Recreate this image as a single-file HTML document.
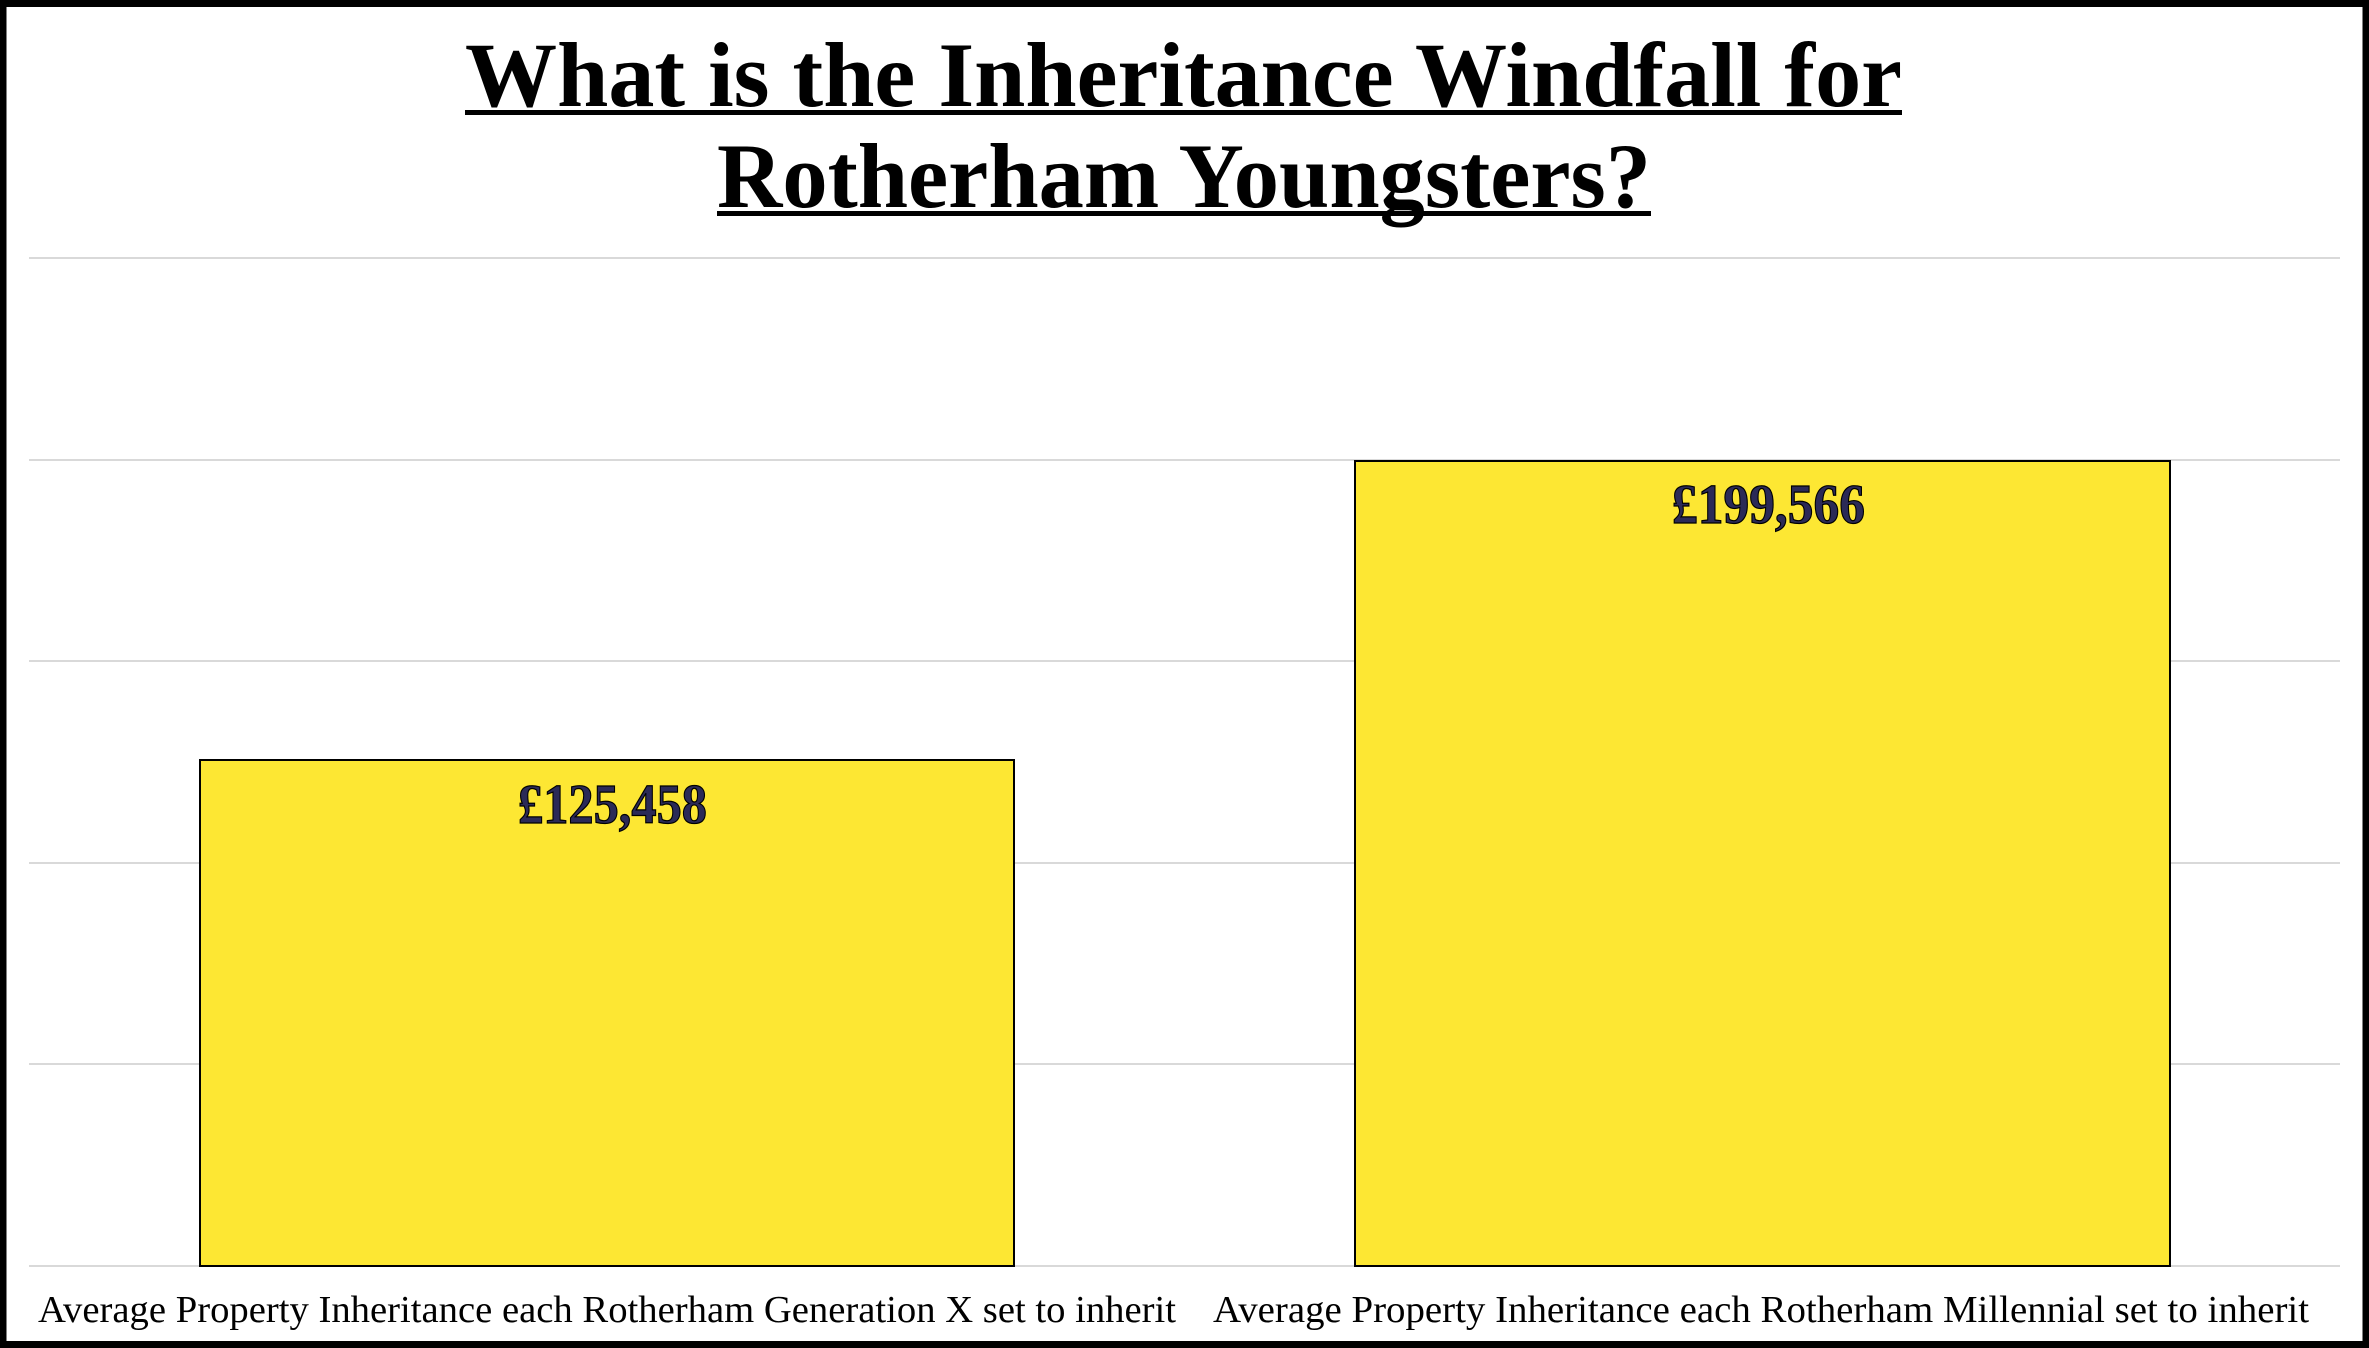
<!DOCTYPE html>
<html><head><meta charset="utf-8"><style>
html,body{margin:0;padding:0;background:#fff;}
svg{display:block;}
</style></head><body>
<svg width="2369" height="1348" viewBox="0 0 2369 1348" xmlns="http://www.w3.org/2000/svg">
<rect x="0" y="0" width="2369" height="1348" fill="#fff"/>
<g stroke="#d9d9d9" stroke-width="2">
<line x1="29" y1="258" x2="2340" y2="258"/>
<line x1="29" y1="460" x2="2340" y2="460"/>
<line x1="29" y1="661" x2="2340" y2="661"/>
<line x1="29" y1="863" x2="2340" y2="863"/>
<line x1="29" y1="1064" x2="2340" y2="1064"/>
<line x1="29" y1="1266" x2="2340" y2="1266"/>
</g>
<rect x="200" y="760" width="814" height="506" fill="#FDE733" stroke="#000" stroke-width="2"/>
<rect x="1355" y="461" width="815" height="805" fill="#FDE733" stroke="#000" stroke-width="2"/>
<g font-family="Liberation Serif, serif" font-weight="bold" font-size="56" fill="#2B2A57" stroke="#000" stroke-width="1.2">
<text x="518" y="823" textLength="189" lengthAdjust="spacingAndGlyphs">£125,458</text>
<text x="1672" y="523" textLength="193" lengthAdjust="spacingAndGlyphs">£199,566</text>
</g>
<g font-family="Liberation Serif, serif" font-weight="bold" font-size="92" fill="#000">
<text x="465" y="106" textLength="1437" lengthAdjust="spacingAndGlyphs">What is the Inheritance Windfall for</text>
<text x="717" y="207" textLength="934" lengthAdjust="spacingAndGlyphs">Rotherham Youngsters?</text>
</g>
<rect x="465" y="110" width="1437" height="5" fill="#000"/>
<rect x="717" y="211" width="934" height="5" fill="#000"/>
<g font-family="Liberation Serif, serif" font-size="38" fill="#000">
<text x="38" y="1322" textLength="1138" lengthAdjust="spacingAndGlyphs">Average Property Inheritance each Rotherham Generation X set to inherit</text>
<text x="1213" y="1322" textLength="1096" lengthAdjust="spacingAndGlyphs">Average Property Inheritance each Rotherham Millennial set to inherit</text>
</g>
<rect x="3" y="3.5" width="2363" height="1341" fill="none" stroke="#000" stroke-width="7"/>
</svg>
</body></html>
